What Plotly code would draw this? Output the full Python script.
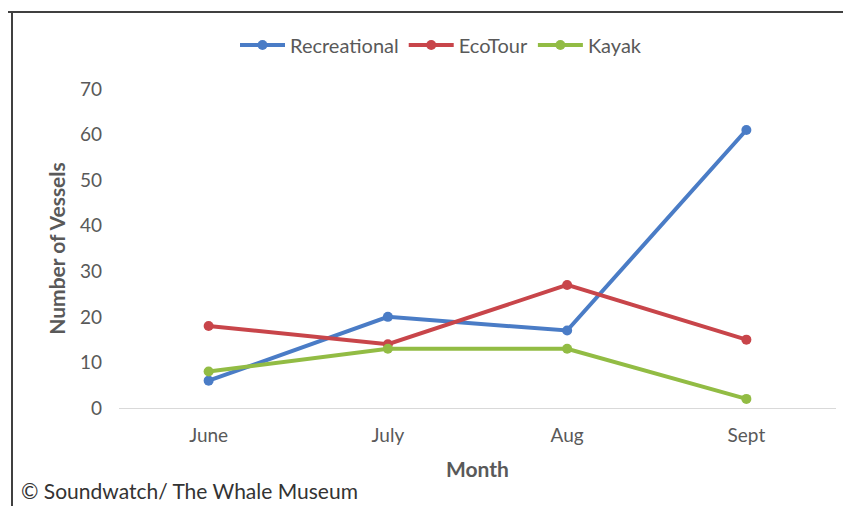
import plotly.graph_objects as go

months = ["June", "July", "Aug", "Sept"]
recreational = [6, 20, 17, 61]
ecotour = [18, 14, 27, 15]
kayak = [8, 13, 13, 2]
y_ticks = [0, 10, 20, 30, 40, 50, 60, 70]

series = [
    ("Recreational", recreational, "#4A7CC6"),
    ("EcoTour", ecotour, "#C8454A"),
    ("Kayak", kayak, "#92BC44"),
]

FONT = "Lato, 'Open Sans', sans-serif"
GREY = "#595959"

fig = go.Figure()
for name, vals, col in series:
    fig.add_trace(go.Scatter(
        x=months, y=vals, name=name, mode="lines+markers",
        line=dict(color=col, width=4),
        marker=dict(color=col, size=10),
    ))

# page body has an 8px margin; work in reference pixels and shift
OFF = 8
W, H = 851 - OFF, 506 - OFF
L, T = 119 - OFF, 89 - OFF
R, B = 15, 98
pw, ph = W - L - R, H - T - B

def px_x(p):
    return (p - OFF - L) / pw

def px_y(p):
    return (H - B - (p - OFF)) / ph

fig.update_layout(
    width=W, height=H,
    margin=dict(l=L, r=R, t=T, b=B),
    paper_bgcolor="white", plot_bgcolor="white",
    font=dict(family=FONT, color=GREY, size=19),
    showlegend=True,
    legend=dict(
        orientation="h", x=px_x(441), y=px_y(45), xanchor="center", yanchor="middle",
        font=dict(size=20, color=GREY), tracegroupgap=0, itemwidth=45,
    ),
    xaxis=dict(
        range=[-0.5, 3.5],
        showgrid=False, zeroline=False, showline=True, linecolor="#D9D9D9", linewidth=1,
        tickfont=dict(size=19, color=GREY), ticks="", ticklabelstandoff=10,
        title=dict(text="<b>Month</b>", font=dict(size=21, color=GREY), standoff=17),
    ),
    yaxis=dict(
        range=[0, 70], tickvals=y_ticks, showgrid=False, zeroline=False, showline=False,
        tickfont=dict(size=19, color=GREY), ticks="", ticklabelstandoff=16,
        title=dict(text="<b>Number of Vessels</b>", font=dict(size=21, color=GREY), standoff=8),
    ),
    shapes=[
        dict(type="line", xref="paper", yref="paper", x0=px_x(8), x1=px_x(870),
             y0=px_y(12), y1=px_y(12), line=dict(color="#404040", width=2)),
        dict(type="line", xref="paper", yref="paper", x0=px_x(12), x1=px_x(12),
             y0=px_y(12), y1=px_y(530), line=dict(color="#404040", width=2)),
    ],
    annotations=[
        dict(text="© Soundwatch/ The Whale Museum", xref="paper", yref="paper",
             x=px_x(19), y=px_y(490), xanchor="left", yanchor="middle", showarrow=False,
             font=dict(size=21, color="#333333", family=FONT)),
    ],
)

fig.write_html("out.html")
